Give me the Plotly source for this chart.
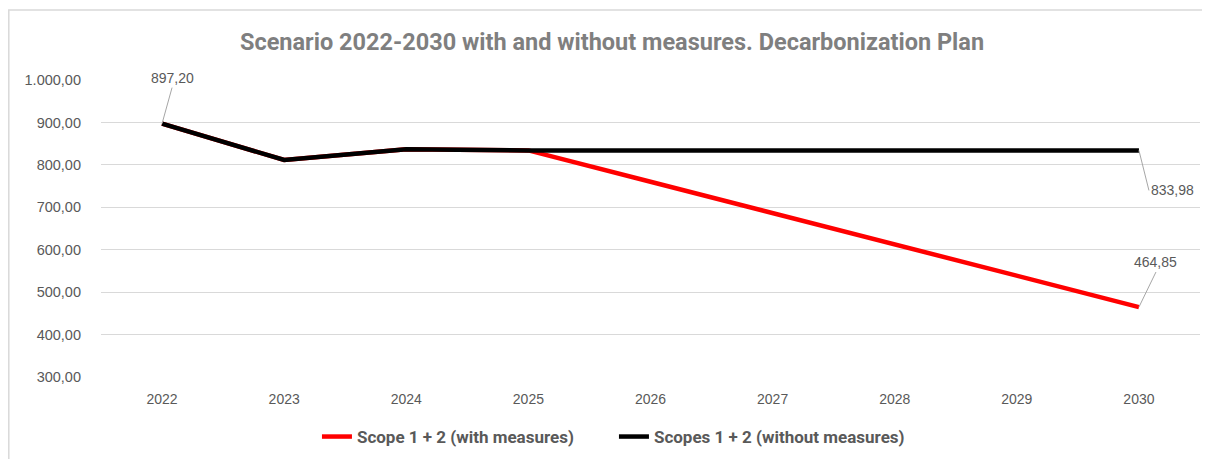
import plotly.graph_objects as go

years = ["2022", "2023", "2024", "2025", "2026", "2027", "2028", "2029", "2030"]
with_measures = [897.20, 811.5, 837.0, 834.0, 760.2, 686.4, 612.6, 538.7, 464.85]
without_measures = [897.20, 811.5, 837.0, 834.0, 833.98, 833.98, 833.98, 833.98, 833.98]
name_with = "Scope 1 + 2 (with measures)"
name_without = "Scopes 1 + 2 (without measures)"
title = "Scenario 2022-2030 with and without measures. Decarbonization Plan"

grey = "#595959"
fig = go.Figure()
fig.add_trace(go.Scatter(x=years, y=with_measures, mode="lines", name=name_with,
                         line=dict(color="#ff0000", width=4.5)))
fig.add_trace(go.Scatter(x=years, y=without_measures, mode="lines", name=name_without,
                         line=dict(color="#000000", width=4.5)))

first_i = years.index("2022")
last_i = years.index("2030")
ann_font = dict(family="Liberation Sans, Arial, sans-serif", size=14, color=grey)
fig.add_annotation(x=first_i, y=without_measures[first_i], text="897,20", showarrow=True,
                   arrowhead=0, arrowwidth=1, arrowcolor="#a6a6a6", ax=10, ay=-36,
                   yanchor="bottom", font=ann_font)
fig.add_annotation(x=last_i, y=without_measures[last_i], text="833,98", showarrow=True,
                   arrowhead=0, arrowwidth=1, arrowcolor="#a6a6a6", ax=10, ay=40,
                   xanchor="left", font=ann_font)
fig.add_annotation(x=last_i, y=with_measures[last_i], text="464,85", showarrow=True,
                   arrowhead=0, arrowwidth=1, arrowcolor="#a6a6a6", ax=17, ay=-35,
                   yanchor="bottom", font=ann_font)

fig.add_shape(type="rect", xref="paper", yref="paper", x0=(0.8 - 93) / 1099, x1=1.2,
              y0=-0.5, y1=1.2357, line=dict(color="#d9d9d9", width=1.5), layer="below")

fig.update_layout(
    width=1202, height=451,
    margin=dict(l=93, r=10, t=72, b=82, autoexpand=False),
    paper_bgcolor="white", plot_bgcolor="white",
    separators=",.",
    title=dict(text="<b>" + title + "</b>", x=0.5025, xref="container", xanchor="center",
               y=0.9246, yanchor="middle",
               font=dict(family="Roboto, Liberation Sans, sans-serif", size=23.5, color="#7f7f7f")),
    xaxis=dict(type="category", showgrid=False, showline=False, ticks="",
               range=[-0.5, len(years) - 0.5], ticklabelstandoff=12,
               tickfont=dict(family="Liberation Sans, Arial, sans-serif", size=14, color=grey)),
    yaxis=dict(range=[300, 1000], dtick=100, tickformat=",.2f", showgrid=True,
               gridcolor="#d9d9d9", gridwidth=1, zeroline=False, showline=False,
               ticklabelstandoff=19,
               tickfont=dict(family="Liberation Sans, Arial, sans-serif", size=14.5, color=grey)),
    legend=dict(orientation="h", x=0.1965, xanchor="left", y=-0.202, yanchor="middle",
                font=dict(family="Roboto, sans-serif", size=17, color=grey, weight="bold"),
                itemwidth=30, entrywidth=252, entrywidthmode="pixels"),
    showlegend=True,
)
fig.write_html("out.html")
